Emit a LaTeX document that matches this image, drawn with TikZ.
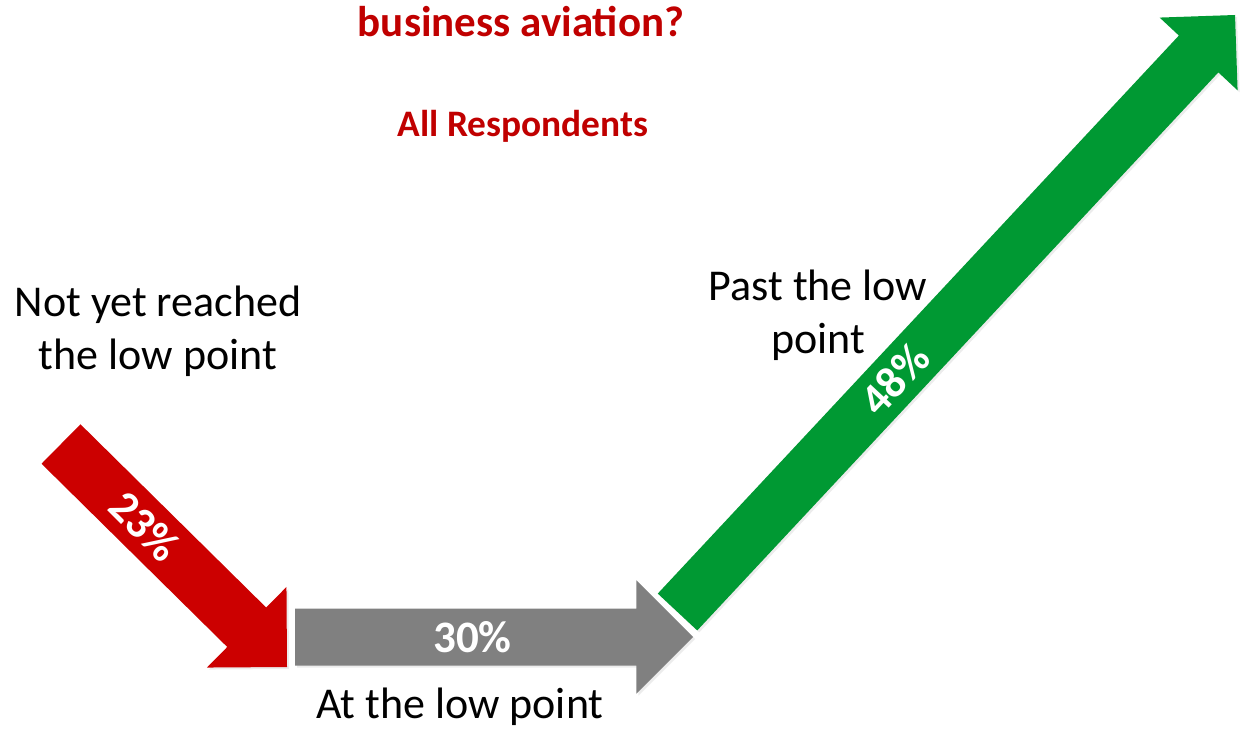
\documentclass[tikz,border=0pt]{standalone}
\usepackage{fontspec}
\setmainfont{Carlito}
\usetikzlibrary{calc,shadows}

\definecolor{downRed}{RGB}{204,0,0}
\definecolor{titleRed}{RGB}{192,0,0}
\definecolor{flatGray}{RGB}{128,128,128}
\definecolor{upGreen}{RGB}{0,153,51}

\begin{document}
\begin{tikzpicture}[x=1pt, y=-1pt,
    arrowshadow/.style={drop shadow={opacity=0.15, shadow xshift=2pt, shadow yshift=-2pt}},
    lbl/.style={font=\fontsize{44}{53}\selectfont, align=center},
    pct/.style={font=\bfseries\fontsize{45}{50}\selectfont, text=white, inner sep=0pt},
    headline/.style={text=titleRed, font=\bfseries\fontsize{43}{50}\selectfont}]
    % --- 1. Canvas ---
    \useasboundingbox (0,0) rectangle (1249,735);

    % --- 2. Title ---
    \node[headline, anchor=base] (title) at (521,37) {business aviation?};
    \node[headline, anchor=base, font=\bfseries\fontsize{37.4}{44}\selectfont] (subtitle) at (523,137) {All Respondents};

    % --- 3. Arrows (tail centre -> tip) ---
    \coordinate (RedTail) at (61,444);
    \coordinate (RedTip) at (287,667);
    \coordinate (GrayTail) at (295,637);
    \coordinate (GrayTip) at (693,637);
    \coordinate (GreenTail) at (677.5,612);
    \coordinate (GreenTip) at (1235,15);

    \foreach \tl/\tp/\col/\sw/\hl in {RedTail/RedTip/downRed/27.7/56.6,
                                      GrayTail/GrayTip/flatGray/28.5/56.7,
                                      GreenTail/GreenTip/upGreen/27/53.3}{
        \coordinate (base) at ($(\tp)!\hl pt!(\tl)$);
        \fill[\col, arrowshadow]
            ($(\tl)!\sw pt!90:(\tp)$) -- ($(base)!\sw pt!90:(\tp)$) --
            ($(base)!\hl pt!90:(\tp)$) -- (\tp) --
            ($(base)!\hl pt!-90:(\tp)$) -- ($(base)!\sw pt!-90:(\tp)$) --
            ($(\tl)!\sw pt!-90:(\tp)$) -- cycle;
    }

    % --- 4. Shares ---
    \node[pct, rotate=-45] (redPct) at ($(RedTail)!0.37!(RedTip)$) {23\%};
    \node[pct] (grayPct) at ($(GrayTail)!0.446!(GrayTip)$) {30\%};
    \node[pct, rotate=47] (greenPct) at ($(GreenTail)!0.39!(GreenTip)$) {48\%};

    % --- 5. Labels ---
    \node[lbl] (notYet) at (158,331) {Not yet reached\\the low point};
    \node[lbl, anchor=base] (atLow) at (460,718) {At the low point};
    \node[lbl] (pastLow) at (818,315) {Past the low\\point};
\end{tikzpicture}
\end{document}
